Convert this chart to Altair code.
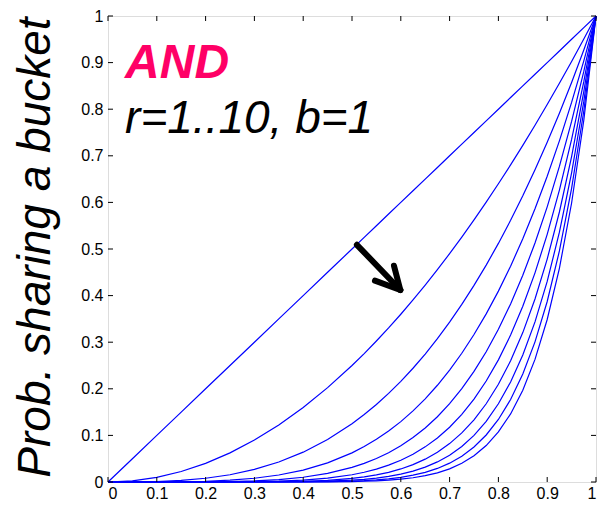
import altair as alt
import pandas as pd

# ---- data ----
s_vals = [0, 0.05, 0.1, 0.15, 0.2, 0.25, 0.3, 0.35, 0.4, 0.45, 0.5,
          0.525, 0.55, 0.575, 0.6, 0.625, 0.65, 0.675, 0.7, 0.725, 0.75,
          0.775, 0.8, 0.825, 0.85, 0.875, 0.9, 0.925, 0.95, 0.975, 1]
r1 = [0, 0.05, 0.1, 0.15, 0.2, 0.25, 0.3, 0.35, 0.4, 0.45, 0.5,
      0.525, 0.55, 0.575, 0.6, 0.625, 0.65, 0.675, 0.7, 0.725, 0.75,
      0.775, 0.8, 0.825, 0.85, 0.875, 0.9, 0.925, 0.95, 0.975, 1]
r2 = [0, 0.0025, 0.01, 0.0225, 0.04, 0.0625, 0.09, 0.1225, 0.16, 0.2025, 0.25,
      0.2756, 0.3025, 0.3306, 0.36, 0.3906, 0.4225, 0.4556, 0.49, 0.5256, 0.5625,
      0.6006, 0.64, 0.6806, 0.7225, 0.7656, 0.81, 0.8556, 0.9025, 0.9506, 1]
r3 = [0, 0.0001, 0.001, 0.0034, 0.008, 0.0156, 0.027, 0.0429, 0.064, 0.0911, 0.125,
      0.1447, 0.1664, 0.1901, 0.216, 0.2441, 0.2746, 0.3075, 0.343, 0.3811, 0.4219,
      0.4655, 0.512, 0.5615, 0.6141, 0.6699, 0.729, 0.7915, 0.8574, 0.9269, 1]
r4 = [0, 0, 0.0001, 0.0005, 0.0016, 0.0039, 0.0081, 0.015, 0.0256, 0.041, 0.0625,
      0.076, 0.0915, 0.1093, 0.1296, 0.1526, 0.1785, 0.2076, 0.2401, 0.2763, 0.3164,
      0.3608, 0.4096, 0.4632, 0.522, 0.5862, 0.6561, 0.7321, 0.8145, 0.9037, 1]
r5 = [0, 0, 0, 0.0001, 0.0003, 0.001, 0.0024, 0.0053, 0.0102, 0.0185, 0.0313,
      0.0399, 0.0503, 0.0629, 0.0778, 0.0954, 0.116, 0.1401, 0.1681, 0.2003, 0.2373,
      0.2796, 0.3277, 0.3822, 0.4437, 0.5129, 0.5905, 0.6772, 0.7738, 0.8811, 1]
r6 = [0, 0, 0, 0, 0.0001, 0.0002, 0.0007, 0.0018, 0.0041, 0.0083, 0.0156,
      0.0209, 0.0277, 0.0361, 0.0467, 0.0596, 0.0754, 0.0946, 0.1176, 0.1452, 0.178,
      0.2167, 0.2621, 0.3153, 0.3771, 0.4488, 0.5314, 0.6264, 0.7351, 0.8591, 1]
r7 = [0, 0, 0, 0, 0, 0.0001, 0.0002, 0.0006, 0.0016, 0.0037, 0.0078,
      0.011, 0.0152, 0.0208, 0.028, 0.0373, 0.049, 0.0638, 0.0824, 0.1053, 0.1335,
      0.1679, 0.2097, 0.2601, 0.3206, 0.3927, 0.4783, 0.5794, 0.6983, 0.8376, 1]
r8 = [0, 0, 0, 0, 0, 0, 0.0001, 0.0002, 0.0007, 0.0017, 0.0039,
      0.0058, 0.0084, 0.012, 0.0168, 0.0233, 0.0319, 0.0431, 0.0576, 0.0763, 0.1001,
      0.1302, 0.1678, 0.2146, 0.2725, 0.3436, 0.4305, 0.536, 0.6634, 0.8167, 1]
r9 = [0, 0, 0, 0, 0, 0, 0, 0.0001, 0.0003, 0.0008, 0.002,
      0.003, 0.0046, 0.0069, 0.0101, 0.0146, 0.0207, 0.0291, 0.0404, 0.0553, 0.0751,
      0.1009, 0.1342, 0.177, 0.2316, 0.3007, 0.3874, 0.4958, 0.6302, 0.7962, 1]
r10 = [0, 0, 0, 0, 0, 0, 0, 0, 0.0001, 0.0003, 0.001,
       0.0016, 0.0025, 0.0039, 0.006, 0.0091, 0.0135, 0.0196, 0.0282, 0.0401, 0.0563,
       0.0782, 0.1074, 0.1461, 0.1969, 0.2631, 0.3487, 0.4586, 0.5987, 0.7763, 1]
series = [r1, r2, r3, r4, r5, r6, r7, r8, r9, r10]

tick_vals = [0, 0.1, 0.2, 0.3, 0.4, 0.5, 0.6, 0.7, 0.8, 0.9, 1]

# arrow annotation (data coordinates): shaft and two head arms
arrow_seg = ["shaft", "shaft", "arm1", "arm1", "arm2", "arm2"]
arrow_x = [0.51, 0.599, 0.586, 0.599, 0.547, 0.599]
arrow_y = [0.509, 0.412, 0.464, 0.412, 0.432, 0.412]

label_text = ["AND", "r=1..10, b=1"]
label_x = [0.035, 0.035]
label_y = [0.867, 0.749]

W, H = 488, 466

# ---- tables ----
rows = []
for i, ys in enumerate(series):
    for s, p in zip(s_vals, ys):
        rows.append({"s": s, "p": p, "r": i + 1})
curves = pd.DataFrame(rows)
ticks = pd.DataFrame({"t": tick_vals})
arrow = pd.DataFrame({"seg": arrow_seg, "x": arrow_x, "y": arrow_y,
                      "o": list(range(len(arrow_x)))})
lab1 = pd.DataFrame({"txt": label_text[:1], "x": label_x[:1], "y": label_y[:1]})
lab2 = pd.DataFrame({"txt": label_text[1:], "x": label_x[1:], "y": label_y[1:]})

FONT = "Liberation Sans"
xscale = alt.Scale(domain=[0, 1], nice=False)
yscale = alt.Scale(domain=[0, 1], nice=False)

xaxis = alt.Axis(values=tick_vals, format="~g", ticks=False, domain=False, grid=False,
                 labelFont=FONT, labelFontSize=16, labelColor="black",
                 labelPadding=3, title=None)
yaxis = alt.Axis(values=tick_vals, format="~g", ticks=False, domain=False, grid=False,
                 labelFont=FONT, labelFontSize=16, labelColor="black",
                 labelPadding=5,
                 title="Prob. sharing a bucket", titleFont=FONT, titleFontSize=46,
                 titleFontStyle="italic", titleFontWeight="normal", titleColor="black",
                 titleAngle=270, titleX=-59, titleY=231, titleAlign="center",
                 titleBaseline="alphabetic")

lines = alt.Chart(curves).mark_line(color="#0000FF", strokeWidth=1.2).encode(
    x=alt.X("s:Q", scale=xscale, axis=xaxis),
    y=alt.Y("p:Q", scale=yscale, axis=yaxis),
    detail="r:N",
    order="s:Q",
)

tk = alt.Chart(ticks).mark_rule(color="black", strokeWidth=1)
bottom_t = tk.encode(x=alt.X("t:Q", scale=xscale), y=alt.value(H), y2=alt.value(H - 5))
top_t = tk.encode(x=alt.X("t:Q", scale=xscale), y=alt.value(0), y2=alt.value(5))
left_t = tk.encode(y=alt.Y("t:Q", scale=yscale), x=alt.value(0), x2=alt.value(5))
right_t = tk.encode(y=alt.Y("t:Q", scale=yscale), x=alt.value(W), x2=alt.value(W - 5))

arr = alt.Chart(arrow).mark_line(color="black", strokeWidth=6, strokeCap="round",
                                 strokeJoin="round").encode(
    x=alt.X("x:Q", scale=xscale), y=alt.Y("y:Q", scale=yscale),
    detail="seg:N", order="o:Q")

t1 = alt.Chart(lab1).mark_text(font=FONT, fontSize=48, fontStyle="italic",
                               fontWeight="bold", color="#FF0066",
                               align="left", baseline="alphabetic").encode(
    x=alt.X("x:Q", scale=xscale), y=alt.Y("y:Q", scale=yscale), text="txt:N")
t2 = alt.Chart(lab2).mark_text(font=FONT, fontSize=46, fontStyle="italic",
                               fontWeight="normal", color="black",
                               align="left", baseline="alphabetic").encode(
    x=alt.X("x:Q", scale=xscale), y=alt.Y("y:Q", scale=yscale), text="txt:N")

chart = alt.layer(lines, bottom_t, top_t, left_t, right_t, arr, t1, t2).properties(
    width=W, height=H,
    autosize=alt.AutoSizeParams(type="none"),
    padding={"left": 100, "top": 8, "right": 1, "bottom": 22},
).configure_view(stroke="black", strokeWidth=1).configure(background="white")

chart.save("out.html", embed_options={"renderer": "svg", "actions": False})
